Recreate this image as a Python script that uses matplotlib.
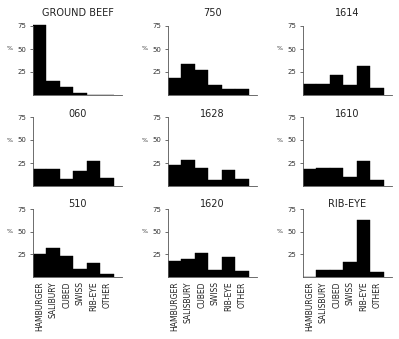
import numpy as np
import matplotlib
matplotlib.use("Agg")
import matplotlib.pyplot as plt

# steak type shares (%) per sample
categories = ['HAMBURGER', 'SALISBURY', 'CUBED', 'SWISS', 'RIB-EYE', 'OTHER']
titles = ['GROUND BEEF', '750', '1614',
          '060', '1628', '1610',
          '510', '1620', 'RIB-EYE']

ground_beef = [76, 15, 8.5, 2.5, 0, 0]
s750 = [18.5, 33.5, 27, 11, 6.5, 6.5]
s1614 = [12, 12, 22, 11, 32, 7.5]
s060 = [18, 19, 8, 16, 27, 9]
s1628 = [23, 28.5, 19.5, 6.5, 17, 8]
s1610 = [19, 20, 20, 9.5, 27, 6.5]
s510 = [25, 31.5, 23.5, 8.5, 15, 3]
s1620 = [18, 20, 26.5, 8, 22, 6.5]
rib_eye = [0, 7.5, 7.5, 17, 63, 5.5]

panels = [ground_beef, s750, s1614, s060, s1628, s1610, s510, s1620, rib_eye]
# the one bottom-left label is misspelt on the original
bottom_labels = [
    ['HAMBURGER', 'SALIBURY', 'CUBED', 'SWISS', 'RIB-EYE', 'OTHER'],
    categories,
    categories,
]

W, H = 399, 339
fig = plt.figure(figsize=(W / 100, H / 100), dpi=100)

col_x = [33, 168, 303]       # y axis pixel x
row_top = [26, 117, 209]     # pixel y of the 75 tick
row_base = [95, 186, 277]    # pixel y of the baseline
ax_w = 89
title_y = [13, 114, 204]

x = np.arange(len(categories))
for i, vals in enumerate(panels):
    r, c = divmod(i, 3)
    h75 = row_base[r] - row_top[r]
    ytop = 78
    h = h75 * ytop / 75
    ax = fig.add_axes([col_x[c] / W, 1 - row_base[r] / H, ax_w / W, h / H])
    ax.bar(x, vals, width=1.0, align='edge', color='black', edgecolor='black', linewidth=0.3)
    ax.set_xlim(0, 6.6)
    ax.set_ylim(0, ytop)
    for s in ['top', 'right']:
        ax.spines[s].set_visible(False)
    ax.spines['left'].set_bounds(0, 75)
    ax.spines['left'].set_color('#555555')
    ax.spines['bottom'].set_color('#555555')
    ax.spines['left'].set_linewidth(0.6)
    ax.spines['bottom'].set_linewidth(0.6)
    ax.set_yticks([25, 50, 75])
    ax.set_yticklabels(['25', '50', '75'], fontsize=5, color='#333333')
    ax.tick_params(axis='y', length=2.5, width=0.6, pad=2, color='#555555')
    ax.text(-0.26, 50, '%', fontsize=4.5, ha='center', va='center', color='#333333',
            transform=ax.get_yaxis_transform())
    if r == 2:
        ax.set_xticks(x + 0.5)
        ax.set_xticklabels(bottom_labels[c], rotation=90, fontsize=5.5, color='#222222')
        ax.tick_params(axis='x', length=0, pad=3)
    else:
        ax.set_xticks([])
    fig.text((col_x[c] + ax_w / 2) / W, 1 - title_y[r] / H, titles[i],
             ha='center', va='center', fontsize=7, color='#222222')

fig.savefig('out.png', dpi=100)
